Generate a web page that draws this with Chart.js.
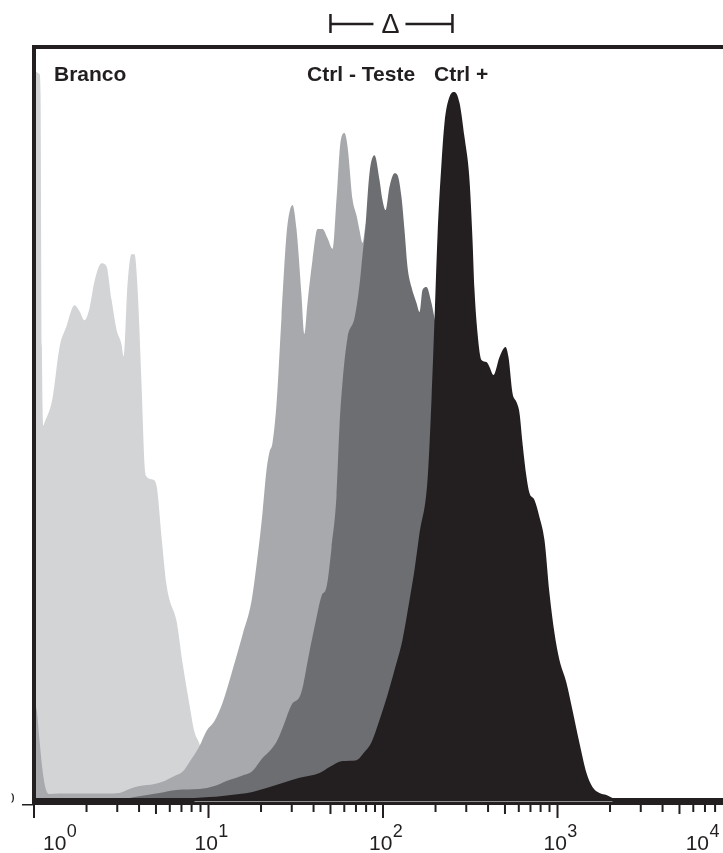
<!DOCTYPE html>
<html>
<head>
<meta charset="utf-8">
<script src="https://cdn.jsdelivr.net/npm/chart.js@4/dist/chart.umd.min.js"></script>
<style>
  html, body { margin: 0; padding: 0; background: #fff; overflow: hidden; width: 723px; height: 853px; }
  #wrap { position: relative; width: 745px; height: 853px; }
  canvas { display: block; }
</style>
</head>
<body>
<div id="wrap"><canvas id="histo" width="745" height="853" style="width:745px;height:853px"></canvas></div>
<script>
// Fluorescence intensity (log axis) and event counts for each sample.
const brancoFL = [1.00, 1.075, 1.09, 1.11, 1.13, 1.149, 1.276, 1.400, 1.535, 1.706, 1.823, 1.947, 2.080, 2.222, 2.437, 2.603, 2.780, 2.970, 3.173, 3.258, 3.434, 3.620, 3.766, 3.918, 4.131, 4.298, 4.412, 4.776, 5.035, 5.379, 5.745, 5.977, 6.555, 7.096, 7.783, 8.314, 8.881, 9.739, 10.82, 12.35, 15.05, 19.60, 33.2];
const brancoN  = [242, 241, 235, 150, 124, 125, 133, 150, 157, 164, 162, 159, 163, 172, 178, 177, 166, 156, 151, 147, 171, 181, 181, 170, 138, 111, 107, 106, 104, 87, 71, 66, 59, 45, 31, 22, 18, 9, 4, 2, 1, 0.3, 0];

const ctrlNegFL = [1.00, 1.034, 1.075, 1.119, 1.164, 1.227, 1.400, 2.637, 3.090, 3.526, 4.023, 4.904, 5.595, 6.384, 7.096, 7.783, 8.881, 9.739, 10.82, 12.03, 13.73, 15.66, 17.64, 19.09, 20.39, 21.50, 22.36, 23.26, 24.53, 26.20, 27.99, 29.12, 30.29, 31.93, 34.11, 35.48, 36.92, 39.44, 42.13, 45.00, 48.07, 51.36, 54.14, 57.07, 60.16, 62.59, 66.86, 70.48, 73.33, 76.29, 79.37, 85.91, 95.49, 116.4, 141.9, 184.7, 240.5, 313.1, 465.4];
const ctrlNegN  = [31, 29.6, 19.3, 9.3, 3.3, 1.3, 1.5, 1.5, 1.7, 3, 4, 4.7, 5.7, 7.3, 8.7, 12, 17.3, 22.3, 25.6, 31.6, 42.6, 54.3, 65.6, 80.2, 94.9, 109.2, 115.2, 118.2, 131.2, 160.1, 187.7, 195.1, 197.4, 189.4, 167.4, 154.5, 164.8, 179.1, 189.4, 189.4, 186.4, 182.8, 199.4, 218.4, 221.4, 217, 199.4, 194, 189, 184.8, 190.7, 194, 185.8, 165.8, 132.5, 82.6, 32.6, 6, 0];

const testeFL = [3.526, 3.766, 5.238, 6.555, 8.881, 10.82, 12.68, 14.47, 16.08, 17.87, 20.39, 22.96, 24.85, 27.26, 29.90, 33.23, 34.57, 36.92, 40.50, 44.41, 47.45, 50.68, 54.14, 56.35, 58.63, 62.59, 68.66, 73.33, 76.29, 79.37, 83.67, 89.39, 95.49, 99.33, 103.4, 108.9, 116.4, 121.1, 127.6, 132.8, 138.2, 145.6, 155.6, 161.9, 168.4, 177.5, 189.6, 197.3, 210.7, 240.5, 313.1, 407.6, 530.7, 690.8, 899.5, 1171];
const testeN  = [0, 0.3, 1.7, 2.7, 3, 4, 5.7, 6.7, 7.7, 9, 13.3, 16.3, 19.3, 25, 31, 33.6, 36.6, 45.3, 56.9, 67.2, 70.2, 83.2, 100.5, 123.8, 138.5, 153.1, 159.8, 170.8, 180.8, 190.1, 208, 214, 205.7, 199.1, 195.7, 203.4, 208, 207.4, 200.1, 189.1, 176.8, 170.1, 164.8, 161.8, 169.1, 170.1, 164.8, 159.8, 152.5, 132.5, 99.2, 65.9, 32.6, 9.3, 1, 0];

const ctrlPosFL = [8.314, 10.13, 12.03, 15.05, 17.87, 21.50, 26.55, 33.23, 43.26, 49.37, 58.63, 70.48, 78.33, 85.91, 95.49, 106.1, 116.4, 129.3, 141.9, 151.5, 161.9, 179.9, 189.6, 197.3, 205.2, 216.4, 225.1, 240.5, 256.9, 274.4, 293.1, 313.1, 325.8, 334.5, 348.0, 366.8, 391.8, 407.6, 429.9, 465.4, 503.4, 523.7, 552.1, 582.0, 605.5, 630.0, 664.1, 690.8, 738.0, 788.4, 842.1, 899.5, 960.9, 1026, 1126, 1218, 1336, 1466, 1586, 1740, 1909, 2066];
const ctrlPosN  = [0, 0.3, 0.7, 1.3, 2, 3.3, 5, 6.7, 8.3, 10.3, 12.3, 12.6, 15.3, 18.6, 26, 34.3, 42.6, 52.6, 65.9, 75.9, 88.2, 105.9, 132.5, 159.1, 186.8, 211.4, 224.7, 233.4, 235, 231.4, 220, 205.7, 185.8, 169.1, 154.8, 145.8, 145.1, 143.5, 140.8, 146.8, 150.1, 146.8, 134.8, 131.8, 128.2, 118.2, 106.9, 101.5, 99.2, 93.5, 85.9, 68.2, 54.9, 45.9, 38.3, 29.3, 18.3, 8.3, 3.7, 1.7, 1, 0];

// Axis decades and the Δ bracket span (fluorescence units)
const decadeTicks = [1, 10, 100, 1000, 10000];
const decadeExp = ['0', '1', '2', '3', '4'];
const bracketFL = [50, 250];

const sampleNames = ['Branco', 'Ctrl - Teste', 'Ctrl +'];

const INK = '#231f20';
const FONT = "'Liberation Sans', Arial, Helvetica, sans-serif";

function points(xs, ys) { return xs.map((v, i) => ({ x: v, y: ys[i] })); }

function area(label, xs, ys, color, order) {
  return {
    label, data: points(xs, ys), order,
    backgroundColor: color, borderColor: 'rgba(0,0,0,0)', borderWidth: 0,
    fill: 'origin', pointRadius: 0, cubicInterpolationMode: 'monotone'
  };
}

const decorations = {
  id: 'decorations',
  afterDraw(chart) {
    const { ctx, chartArea: a, scales: { x: xs } } = chart;
    const viewW = document.documentElement.clientWidth || 723;
    ctx.save();
    ctx.fillStyle = INK;

    // frame: top, left, and the heavy baseline
    ctx.fillRect(a.left - 2, a.top - 2, chart.width, 4);
    ctx.fillRect(a.left - 2, a.top - 2, 4, a.bottom - a.top + 9);
    ctx.fillRect(a.left - 2, a.bottom, chart.width, 7);

    // thin light rule under the positive-control population
    ctx.fillStyle = '#8f8f8f';
    const g0 = xs.getPixelForValue(ctrlPosFL[0]);
    const g1 = xs.getPixelForValue(ctrlPosFL[ctrlPosFL.length - 1]);
    ctx.fillRect(g0, a.bottom + 3, g1 - g0, 1);
    ctx.fillStyle = INK;

    // log ticks
    for (let e = 0; e < decadeTicks.length; e++) {
      for (let m = 1; m <= 9; m++) {
        if (e === decadeTicks.length - 1 && m > 1) break;
        const px = xs.getPixelForValue(m * decadeTicks[e]);
        const len = m === 1 ? 13 : (m === 5 ? 9 : 7);
        ctx.fillRect(px - 1, a.bottom + 7, 2, len);
      }
    }

    // y zero tick and its label
    ctx.fillRect(a.left - 12, a.bottom + 6, 12, 1.5);
    ctx.save();
    ctx.beginPath();
    ctx.rect(11.5, a.bottom - 20, 20, 30);
    ctx.clip();
    ctx.font = '15px ' + FONT;
    ctx.textAlign = 'right';
    ctx.fillText('0', 14.5, a.bottom + 4.5);
    ctx.restore();

    // decade labels 10^n
    ctx.textAlign = 'left';
    ctx.textBaseline = 'alphabetic';
    decadeTicks.forEach((v, i) => {
      const px = xs.getPixelForValue(v);
      ctx.font = '21px ' + FONT;
      const wb = ctx.measureText('10').width;
      ctx.font = '18px ' + FONT;
      const ws = ctx.measureText(decadeExp[i]).width;
      let left = px - 14;
      left = Math.max(a.left + 9, Math.min(left, viewW - 4 - wb - ws));
      ctx.font = '21px ' + FONT;
      ctx.fillText('10', left, a.bottom + 52);
      ctx.font = '18px ' + FONT;
      ctx.fillText(decadeExp[i], left + wb + 0.5, a.bottom + 39);
    });

    // sample names
    ctx.font = 'bold 21px ' + FONT;
    ctx.fillText(sampleNames[0], a.left + 20, a.top + 34);
    ctx.fillText(sampleNames[1], 307, a.top + 34);
    ctx.fillText(sampleNames[2], 434, a.top + 34);

    // Δ bracket between the two populations
    const b0 = xs.getPixelForValue(bracketFL[0]);
    const b1 = xs.getPixelForValue(bracketFL[1]);
    const by = 24;
    ctx.fillRect(b0 - 1.25, 14, 2.5, 19);
    ctx.fillRect(b1 - 1.25, 14, 2.5, 19);
    const mid = (b0 + b1) / 2;
    ctx.fillRect(b0, by - 1.25, (mid - 18) - b0, 2.5);
    ctx.fillRect(mid + 14, by - 1.25, b1 - (mid + 14), 2.5);
    ctx.font = '27px ' + FONT;
    ctx.textAlign = 'center';
    ctx.fillText('Δ', mid - 1, 33);

    ctx.restore();
  }
};

new Chart(document.getElementById('histo'), {
  type: 'line',
  data: {
    datasets: [
      area('Branco', brancoFL, brancoN, '#d3d4d6', 4),
      area('Ctrl -', ctrlNegFL, ctrlNegN, '#a7a9ac', 3),
      area('Teste', testeFL, testeN, '#6d6e71', 2),
      area('Ctrl +', ctrlPosFL, ctrlPosN, '#231f20', 1)
    ]
  },
  options: {
    responsive: false,
    animation: false,
    devicePixelRatio: 1,
    layout: { padding: { left: 34, right: 13, top: 47, bottom: 55 } },
    plugins: { legend: { display: false }, tooltip: { enabled: false } },
    scales: {
      x: { type: 'logarithmic', min: 1, max: 10000, display: false },
      y: { type: 'linear', min: 0, max: 250, display: false }
    }
  },
  plugins: [decorations]
});
</script>
</body>
</html>
